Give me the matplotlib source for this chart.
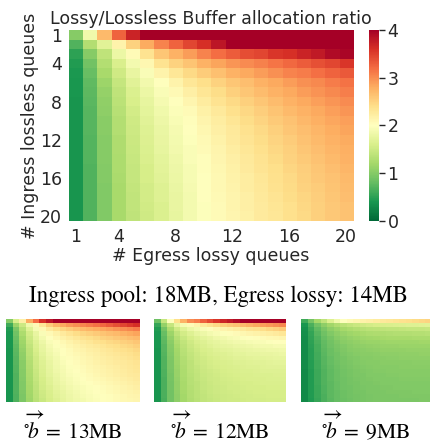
import matplotlib.pyplot as plt
import numpy as np

# queue counts (1..20) and tick labels
queues = list(range(1, 21))
tick_vals = [1, 4, 8, 12, 16, 20]

# Main heatmap: lossy/lossless ratio, rows = ingress lossless queues, cols = egress lossy queues
ratio_main = [
    [1.0, 1.85, 2.7, 3.25, 3.7, 4, 4, 4, 4, 4, 4, 4, 4, 4, 4, 4, 4, 4, 4, 4],
    [0.7, 1.3, 1.7, 2.15, 2.5, 2.8, 3.05, 3.25, 3.45, 3.6, 3.8, 4, 4, 4, 4, 4, 4, 4, 4, 4],
    [0.5, 1.0, 1.4, 1.8, 2.05, 2.35, 2.6, 2.75, 2.9, 3.05, 3.2, 3.3, 3.4, 3.45, 3.55, 3.6, 3.7, 3.78, 3.9, 3.95],
    [0.45, 0.88, 1.3, 1.62, 1.88, 2.1, 2.35, 2.5, 2.62, 2.75, 2.85, 2.95, 3.0, 3.07, 3.15, 3.22, 3.3, 3.38, 3.45, 3.55],
    [0.42, 0.82, 1.22, 1.52, 1.78, 1.95, 2.15, 2.3, 2.45, 2.55, 2.65, 2.75, 2.82, 2.9, 2.97, 3.05, 3.1, 3.18, 3.25, 3.32],
    [0.4, 0.78, 1.15, 1.45, 1.7, 1.86, 2.0, 2.15, 2.3, 2.4, 2.5, 2.6, 2.67, 2.75, 2.82, 2.9, 2.97, 3.03, 3.1, 3.17],
    [0.4, 0.75, 1.1, 1.4, 1.64, 1.8, 1.95, 2.07, 2.2, 2.32, 2.42, 2.52, 2.6, 2.68, 2.75, 2.82, 2.9, 2.96, 3.02, 3.08],
    [0.39, 0.74, 1.07, 1.36, 1.6, 1.76, 1.9, 2.0, 2.12, 2.24, 2.35, 2.44, 2.52, 2.6, 2.68, 2.75, 2.82, 2.88, 2.94, 3.0],
    [0.39, 0.73, 1.05, 1.33, 1.56, 1.72, 1.85, 1.96, 2.06, 2.18, 2.28, 2.38, 2.46, 2.54, 2.62, 2.69, 2.76, 2.82, 2.88, 2.94],
    [0.38, 0.72, 1.03, 1.31, 1.53, 1.69, 1.82, 1.93, 2.02, 2.13, 2.23, 2.32, 2.41, 2.49, 2.57, 2.64, 2.71, 2.77, 2.83, 2.89],
    [0.38, 0.72, 1.02, 1.3, 1.51, 1.67, 1.79, 1.9, 1.99, 2.1, 2.19, 2.28, 2.37, 2.45, 2.53, 2.6, 2.67, 2.73, 2.79, 2.85],
    [0.38, 0.71, 1.01, 1.28, 1.49, 1.65, 1.77, 1.88, 1.97, 2.07, 2.16, 2.25, 2.33, 2.41, 2.49, 2.56, 2.63, 2.69, 2.75, 2.81],
    [0.38, 0.71, 1.0, 1.27, 1.47, 1.63, 1.75, 1.86, 1.95, 2.05, 2.14, 2.22, 2.3, 2.38, 2.46, 2.53, 2.6, 2.66, 2.72, 2.78],
    [0.38, 0.71, 1.0, 1.26, 1.46, 1.61, 1.73, 1.84, 1.94, 2.03, 2.12, 2.2, 2.28, 2.35, 2.43, 2.5, 2.57, 2.63, 2.69, 2.75],
    [0.38, 0.7, 0.99, 1.25, 1.45, 1.59, 1.71, 1.82, 1.92, 2.02, 2.1, 2.18, 2.25, 2.33, 2.4, 2.47, 2.54, 2.6, 2.66, 2.72],
    [0.38, 0.7, 0.99, 1.24, 1.44, 1.58, 1.69, 1.8, 1.91, 2.01, 2.09, 2.16, 2.23, 2.31, 2.38, 2.45, 2.52, 2.58, 2.64, 2.7],
    [0.38, 0.7, 0.98, 1.23, 1.43, 1.56, 1.67, 1.79, 1.9, 2.0, 2.08, 2.15, 2.22, 2.29, 2.36, 2.43, 2.5, 2.56, 2.62, 2.68],
    [0.38, 0.7, 0.98, 1.23, 1.42, 1.55, 1.66, 1.78, 1.89, 1.99, 2.07, 2.14, 2.2, 2.27, 2.34, 2.41, 2.48, 2.54, 2.6, 2.66],
    [0.38, 0.7, 0.97, 1.22, 1.41, 1.54, 1.64, 1.77, 1.88, 1.98, 2.06, 2.13, 2.19, 2.26, 2.32, 2.39, 2.46, 2.53, 2.59, 2.64],
    [0.38, 0.7, 0.97, 1.22, 1.4, 1.53, 1.63, 1.76, 1.88, 1.98, 2.06, 2.12, 2.18, 2.25, 2.31, 2.38, 2.45, 2.52, 2.58, 2.63],
]

# Small heatmaps for three egress lossless sizes
ratio_13mb = [
    [1.0, 1.6, 2.2, 2.8, 3.2, 3.6, 3.8, 4, 4, 4, 4, 4, 4, 4, 4, 4, 4, 4, 4, 4],
    [0.6, 1.15, 1.5, 1.85, 2.07, 2.3, 2.55, 2.72, 2.82, 2.92, 2.98, 3.04, 3.1, 3.16, 3.22, 3.3, 3.38, 3.45, 3.52, 3.6],
    [0.45, 0.95, 1.35, 1.68, 1.92, 2.08, 2.25, 2.38, 2.48, 2.56, 2.63, 2.69, 2.74, 2.79, 2.84, 2.89, 2.94, 2.99, 3.04, 3.1],
    [0.42, 0.88, 1.25, 1.55, 1.78, 1.95, 2.07, 2.17, 2.26, 2.34, 2.41, 2.47, 2.52, 2.57, 2.62, 2.66, 2.7, 2.75, 2.8, 2.85],
    [0.41, 0.83, 1.2, 1.5, 1.72, 1.88, 1.99, 2.08, 2.16, 2.23, 2.29, 2.35, 2.4, 2.45, 2.5, 2.54, 2.58, 2.62, 2.66, 2.7],
    [0.4, 0.8, 1.16, 1.46, 1.67, 1.82, 1.94, 2.02, 2.09, 2.15, 2.21, 2.26, 2.31, 2.36, 2.4, 2.44, 2.48, 2.52, 2.56, 2.6],
    [0.4, 0.78, 1.13, 1.42, 1.63, 1.78, 1.9, 1.98, 2.04, 2.1, 2.15, 2.2, 2.24, 2.28, 2.32, 2.36, 2.4, 2.44, 2.48, 2.52],
    [0.39, 0.76, 1.1, 1.39, 1.6, 1.75, 1.86, 1.95, 2.01, 2.06, 2.11, 2.15, 2.19, 2.23, 2.27, 2.31, 2.35, 2.38, 2.42, 2.46],
    [0.39, 0.74, 1.07, 1.36, 1.57, 1.72, 1.83, 1.92, 1.99, 2.04, 2.08, 2.12, 2.16, 2.2, 2.24, 2.27, 2.3, 2.33, 2.37, 2.41],
    [0.38, 0.73, 1.05, 1.33, 1.54, 1.69, 1.8, 1.89, 1.96, 2.02, 2.06, 2.1, 2.14, 2.18, 2.21, 2.24, 2.27, 2.3, 2.34, 2.38],
    [0.38, 0.72, 1.03, 1.31, 1.52, 1.67, 1.78, 1.87, 1.94, 2.0, 2.04, 2.08, 2.12, 2.16, 2.19, 2.22, 2.25, 2.28, 2.31, 2.34],
    [0.38, 0.71, 1.02, 1.29, 1.5, 1.65, 1.76, 1.85, 1.92, 1.98, 2.02, 2.06, 2.1, 2.14, 2.17, 2.2, 2.23, 2.26, 2.29, 2.32],
    [0.38, 0.71, 1.01, 1.27, 1.48, 1.63, 1.74, 1.83, 1.9, 1.96, 2.0, 2.04, 2.08, 2.12, 2.15, 2.18, 2.21, 2.24, 2.27, 2.3],
    [0.38, 0.7, 1.0, 1.25, 1.46, 1.61, 1.72, 1.81, 1.88, 1.94, 1.98, 2.02, 2.06, 2.1, 2.13, 2.16, 2.19, 2.22, 2.25, 2.28],
    [0.38, 0.7, 0.99, 1.24, 1.44, 1.59, 1.7, 1.79, 1.86, 1.92, 1.96, 2.0, 2.04, 2.07, 2.1, 2.13, 2.16, 2.19, 2.22, 2.25],
    [0.38, 0.69, 0.98, 1.22, 1.42, 1.57, 1.68, 1.77, 1.84, 1.9, 1.94, 1.98, 2.01, 2.04, 2.07, 2.1, 2.13, 2.16, 2.19, 2.22],
    [0.38, 0.69, 0.97, 1.21, 1.4, 1.55, 1.65, 1.74, 1.81, 1.87, 1.91, 1.95, 1.98, 2.01, 2.04, 2.07, 2.1, 2.13, 2.16, 2.19],
    [0.38, 0.69, 0.96, 1.19, 1.38, 1.52, 1.62, 1.71, 1.78, 1.84, 1.89, 1.93, 1.96, 1.99, 2.02, 2.05, 2.08, 2.11, 2.14, 2.16],
    [0.38, 0.68, 0.95, 1.18, 1.36, 1.5, 1.6, 1.69, 1.76, 1.82, 1.87, 1.91, 1.94, 1.97, 2.0, 2.03, 2.06, 2.09, 2.12, 2.14],
    [0.38, 0.68, 0.95, 1.17, 1.35, 1.48, 1.58, 1.67, 1.74, 1.8, 1.85, 1.89, 1.93, 1.96, 1.99, 2.02, 2.05, 2.08, 2.1, 2.12],
]

ratio_12mb = [
    [0.85, 1.45, 2.0, 2.4, 2.75, 3.0, 3.1, 3.28, 3.42, 3.55, 3.68, 3.78, 3.88, 4, 4, 4, 4, 4, 4, 4],
    [0.55, 1.1, 1.45, 1.75, 1.92, 2.05, 2.15, 2.25, 2.35, 2.45, 2.52, 2.58, 2.64, 2.7, 2.76, 2.82, 2.88, 2.93, 2.98, 3.03],
    [0.45, 0.9, 1.25, 1.52, 1.68, 1.8, 1.88, 1.95, 2.02, 2.08, 2.13, 2.18, 2.23, 2.28, 2.33, 2.37, 2.42, 2.47, 2.52, 2.57],
    [0.42, 0.82, 1.15, 1.4, 1.56, 1.67, 1.75, 1.82, 1.88, 1.93, 1.98, 2.02, 2.06, 2.1, 2.14, 2.17, 2.2, 2.23, 2.26, 2.3],
    [0.41, 0.78, 1.08, 1.32, 1.48, 1.59, 1.67, 1.73, 1.78, 1.83, 1.87, 1.91, 1.94, 1.97, 2.0, 2.03, 2.05, 2.08, 2.1, 2.12],
    [0.4, 0.75, 1.04, 1.27, 1.42, 1.53, 1.61, 1.67, 1.72, 1.76, 1.8, 1.83, 1.86, 1.89, 1.91, 1.93, 1.95, 1.97, 1.99, 2.0],
    [0.4, 0.73, 1.01, 1.23, 1.38, 1.49, 1.57, 1.63, 1.68, 1.72, 1.75, 1.78, 1.8, 1.82, 1.84, 1.86, 1.88, 1.89, 1.91, 1.92],
    [0.39, 0.72, 0.99, 1.2, 1.35, 1.46, 1.54, 1.6, 1.64, 1.68, 1.71, 1.73, 1.75, 1.77, 1.79, 1.8, 1.82, 1.83, 1.84, 1.85],
    [0.39, 0.71, 0.97, 1.18, 1.33, 1.43, 1.51, 1.57, 1.61, 1.65, 1.67, 1.7, 1.72, 1.73, 1.75, 1.76, 1.77, 1.78, 1.79, 1.8],
    [0.38, 0.7, 0.96, 1.16, 1.31, 1.41, 1.49, 1.54, 1.59, 1.62, 1.65, 1.67, 1.69, 1.7, 1.71, 1.72, 1.73, 1.74, 1.75, 1.75],
    [0.38, 0.69, 0.95, 1.15, 1.29, 1.39, 1.47, 1.52, 1.57, 1.6, 1.62, 1.64, 1.66, 1.67, 1.68, 1.69, 1.7, 1.71, 1.72, 1.72],
    [0.38, 0.69, 0.94, 1.13, 1.28, 1.38, 1.45, 1.5, 1.55, 1.58, 1.6, 1.62, 1.64, 1.65, 1.66, 1.67, 1.68, 1.69, 1.69, 1.7],
    [0.38, 0.68, 0.93, 1.12, 1.26, 1.36, 1.43, 1.49, 1.53, 1.56, 1.58, 1.6, 1.62, 1.63, 1.64, 1.65, 1.66, 1.66, 1.67, 1.67],
    [0.38, 0.68, 0.92, 1.11, 1.25, 1.35, 1.42, 1.47, 1.51, 1.54, 1.57, 1.59, 1.6, 1.61, 1.62, 1.63, 1.64, 1.64, 1.65, 1.65],
    [0.38, 0.67, 0.91, 1.1, 1.24, 1.34, 1.41, 1.46, 1.5, 1.53, 1.55, 1.57, 1.58, 1.6, 1.61, 1.61, 1.62, 1.63, 1.63, 1.63],
    [0.38, 0.67, 0.9, 1.09, 1.23, 1.33, 1.39, 1.45, 1.49, 1.52, 1.54, 1.56, 1.57, 1.58, 1.59, 1.6, 1.61, 1.61, 1.62, 1.62],
    [0.38, 0.66, 0.9, 1.08, 1.22, 1.32, 1.38, 1.44, 1.48, 1.51, 1.53, 1.55, 1.56, 1.57, 1.58, 1.59, 1.59, 1.6, 1.6, 1.6],
    [0.38, 0.66, 0.89, 1.07, 1.21, 1.31, 1.37, 1.43, 1.47, 1.5, 1.52, 1.54, 1.55, 1.56, 1.57, 1.58, 1.58, 1.59, 1.59, 1.59],
    [0.38, 0.66, 0.89, 1.06, 1.2, 1.3, 1.36, 1.42, 1.46, 1.49, 1.51, 1.53, 1.54, 1.55, 1.56, 1.57, 1.57, 1.58, 1.58, 1.58],
    [0.38, 0.65, 0.88, 1.05, 1.19, 1.29, 1.35, 1.41, 1.45, 1.48, 1.5, 1.52, 1.53, 1.54, 1.55, 1.56, 1.56, 1.57, 1.57, 1.57],
]

ratio_9mb = [
    [0.6, 0.9, 1.2, 1.4, 1.65, 1.85, 2.0, 2.07, 2.12, 2.16, 2.2, 2.24, 2.28, 2.31, 2.34, 2.37, 2.4, 2.43, 2.46, 2.49],
    [0.4, 0.66, 0.88, 1.05, 1.18, 1.29, 1.37, 1.43, 1.48, 1.52, 1.55, 1.58, 1.6, 1.62, 1.64, 1.65, 1.66, 1.67, 1.68, 1.69],
    [0.35, 0.58, 0.78, 0.93, 1.05, 1.14, 1.21, 1.26, 1.3, 1.33, 1.36, 1.38, 1.4, 1.41, 1.42, 1.43, 1.44, 1.45, 1.45, 1.46],
    [0.33, 0.54, 0.72, 0.86, 0.97, 1.05, 1.11, 1.16, 1.2, 1.23, 1.25, 1.27, 1.28, 1.29, 1.3, 1.31, 1.31, 1.32, 1.32, 1.33],
    [0.32, 0.52, 0.68, 0.82, 0.92, 1.0, 1.06, 1.1, 1.14, 1.16, 1.18, 1.2, 1.21, 1.22, 1.22, 1.23, 1.23, 1.24, 1.24, 1.24],
    [0.31, 0.5, 0.66, 0.79, 0.89, 0.96, 1.02, 1.06, 1.09, 1.11, 1.13, 1.14, 1.15, 1.16, 1.16, 1.17, 1.17, 1.17, 1.18, 1.18],
    [0.31, 0.49, 0.64, 0.77, 0.86, 0.93, 0.98, 1.02, 1.05, 1.07, 1.09, 1.1, 1.11, 1.12, 1.12, 1.13, 1.13, 1.13, 1.14, 1.14],
    [0.3, 0.48, 0.63, 0.75, 0.84, 0.91, 0.96, 1.0, 1.02, 1.04, 1.06, 1.07, 1.08, 1.08, 1.09, 1.09, 1.1, 1.1, 1.1, 1.1],
    [0.3, 0.47, 0.62, 0.74, 0.83, 0.89, 0.94, 0.98, 1.0, 1.02, 1.03, 1.04, 1.05, 1.06, 1.06, 1.07, 1.07, 1.07, 1.08, 1.08],
    [0.3, 0.47, 0.61, 0.73, 0.81, 0.88, 0.92, 0.96, 0.98, 1.0, 1.01, 1.02, 1.03, 1.04, 1.04, 1.05, 1.05, 1.05, 1.05, 1.06],
    [0.3, 0.46, 0.6, 0.72, 0.8, 0.86, 0.91, 0.94, 0.97, 0.99, 1.0, 1.01, 1.02, 1.02, 1.03, 1.03, 1.03, 1.04, 1.04, 1.04],
    [0.3, 0.46, 0.6, 0.71, 0.79, 0.85, 0.9, 0.93, 0.96, 0.97, 0.99, 1.0, 1.0, 1.01, 1.01, 1.02, 1.02, 1.02, 1.02, 1.03],
    [0.29, 0.45, 0.59, 0.7, 0.78, 0.84, 0.89, 0.92, 0.95, 0.96, 0.98, 0.99, 0.99, 1.0, 1.0, 1.01, 1.01, 1.01, 1.01, 1.01],
    [0.29, 0.45, 0.59, 0.7, 0.78, 0.84, 0.88, 0.91, 0.94, 0.95, 0.97, 0.98, 0.98, 0.99, 0.99, 1.0, 1.0, 1.0, 1.0, 1.0],
    [0.29, 0.45, 0.58, 0.69, 0.77, 0.83, 0.87, 0.9, 0.93, 0.95, 0.96, 0.97, 0.97, 0.98, 0.98, 0.99, 0.99, 0.99, 0.99, 0.99],
    [0.29, 0.44, 0.58, 0.69, 0.76, 0.82, 0.86, 0.9, 0.92, 0.94, 0.95, 0.96, 0.97, 0.97, 0.98, 0.98, 0.98, 0.98, 0.98, 0.98],
    [0.29, 0.44, 0.57, 0.68, 0.76, 0.82, 0.86, 0.89, 0.91, 0.93, 0.94, 0.95, 0.96, 0.96, 0.97, 0.97, 0.97, 0.97, 0.97, 0.97],
    [0.29, 0.44, 0.57, 0.68, 0.75, 0.81, 0.85, 0.88, 0.91, 0.92, 0.94, 0.95, 0.95, 0.96, 0.96, 0.96, 0.96, 0.97, 0.97, 0.97],
    [0.29, 0.44, 0.57, 0.67, 0.75, 0.81, 0.85, 0.88, 0.9, 0.92, 0.93, 0.94, 0.95, 0.95, 0.95, 0.96, 0.96, 0.96, 0.96, 0.96],
    [0.29, 0.43, 0.56, 0.67, 0.74, 0.8, 0.84, 0.87, 0.9, 0.91, 0.93, 0.94, 0.94, 0.95, 0.95, 0.95, 0.95, 0.95, 0.96, 0.96],
]

small_sizes = ["13", "12", "9"]

TEXT = "#262626"
CMAP = "RdYlGn_r"
FS = 12.5
plt.rcParams["mathtext.fontset"] = "stix"

fig = plt.figure(figsize=(4.31, 4.48), dpi=100)
n = len(queues)
extent = (0.5, n + 0.5, n + 0.5, 0.5)

# --- main heatmap ---
ax = fig.add_axes([0.160, 0.507, 0.659, 0.426])
im = ax.imshow(np.array(ratio_main), cmap=CMAP, vmin=0, vmax=4,
               aspect="auto", extent=extent, interpolation="nearest")
ax.set_xticks(tick_vals)
ax.set_yticks(tick_vals)
ax.tick_params(length=0, labelsize=FS, colors=TEXT, pad=5)
for s in ax.spines.values():
    s.set_visible(False)
ax.set_title("Lossy/Lossless Buffer allocation ratio", fontsize=FS,
             color=TEXT, pad=4)
ax.set_xlabel("# Egress lossy queues", fontsize=FS, color=TEXT, labelpad=1)
ax.set_ylabel("# Ingress lossless queues", fontsize=FS, color=TEXT, labelpad=1)

cax = fig.add_axes([0.856, 0.507, 0.024, 0.426])
cb = fig.colorbar(im, cax=cax, ticks=[0, 1, 2, 3, 4])
cb.outline.set_visible(False)
cax.tick_params(labelsize=FS, colors=TEXT, length=4, width=1, pad=2)

fig.text(0.506, 0.339, "Ingress pool: 18MB, Egress lossy: 14MB",
         family="STIXGeneral", fontsize=16.5, ha="center", va="center", color="black")

# --- small heatmaps ---
small_data = [ratio_13mb, ratio_12mb, ratio_9mb]
lefts = [0.0139, 0.357, 0.698]
widths = [0.309, 0.306, 0.302]
for data, size, left, w in zip(small_data, small_sizes, lefts, widths):
    sax = fig.add_axes([left, 0.1027, w, 0.185])
    sax.imshow(np.array(data), cmap=CMAP, vmin=0, vmax=4, aspect="auto",
               extent=extent, interpolation="nearest")
    sax.set_xticks([])
    sax.set_yticks([])
    for s in sax.spines.values():
        s.set_visible(False)
    fig.text(left + w / 2, 0.012,
             r"$^{\circ}\!\overrightarrow{b}\;=\;" + size + r"\mathrm{MB}$",
             fontsize=15.5, ha="center", va="bottom", color="black")

fig.savefig("out.png", dpi=100)
